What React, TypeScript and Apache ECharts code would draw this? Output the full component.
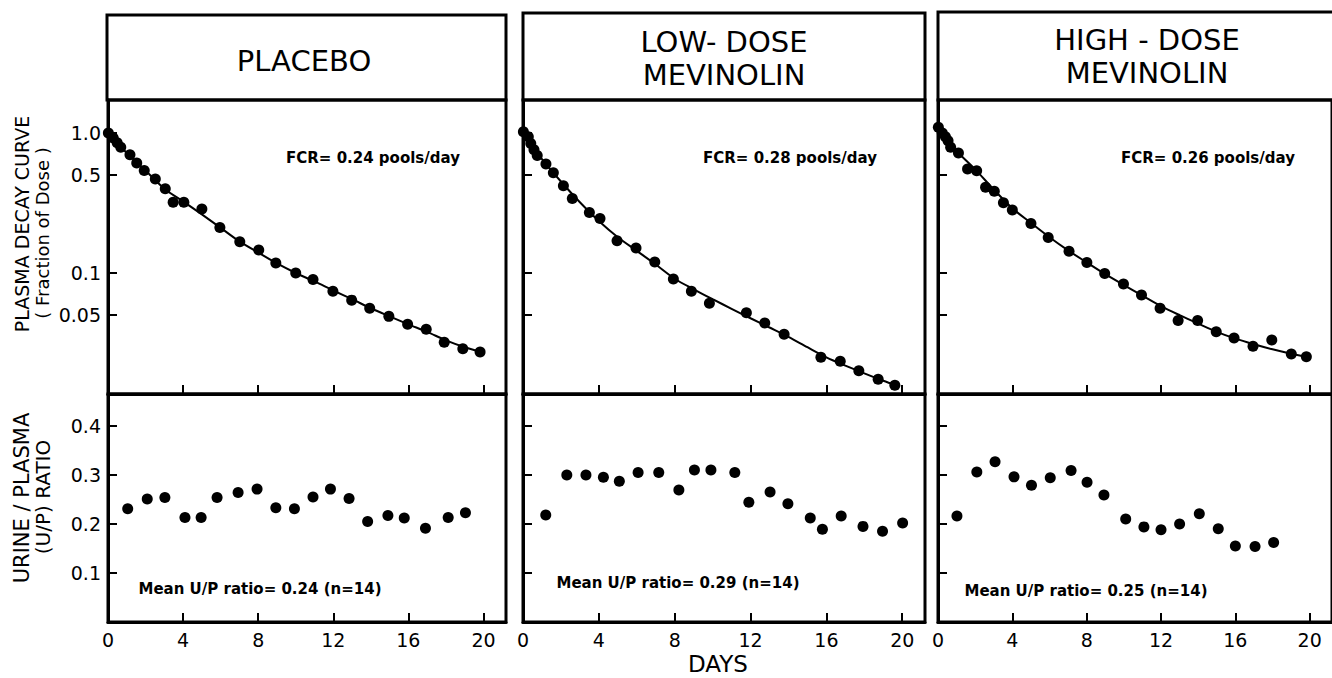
import React, { useEffect, useRef } from "react";
import * as echarts from "echarts";

// ---------- DATA ----------
const titles = [["PLACEBO"], ["LOW- DOSE", "MEVINOLIN"], ["HIGH - DOSE", "MEVINOLIN"]];
const fcrLabels = ["FCR= 0.24 pools/day", "FCR= 0.28 pools/day", "FCR= 0.26 pools/day"];
const meanLabels = ["Mean U/P ratio= 0.24 (n=14)", "Mean U/P ratio= 0.29 (n=14)", "Mean U/P ratio= 0.25 (n=14)"];

const dayTickStep = 4;
const decayTicks = [0.05, 0.1, 0.5, 1.0];
const ratioTickStep = 0.1;

// Plasma decay – placebo
const placeboDecayDays = [0.02, 0.28, 0.49, 0.68, 1.17, 1.53, 1.93, 2.52, 3.05, 3.47, 4.04, 5.0, 5.96, 7.02, 8.03, 8.94, 10.0, 10.92, 11.98, 12.98, 13.94, 14.96, 15.96, 16.95, 17.91, 18.9, 19.82];
const placeboDecay = [1.0, 0.92, 0.85, 0.79, 0.7, 0.61, 0.54, 0.47, 0.4, 0.32, 0.32, 0.286, 0.211, 0.167, 0.146, 0.118, 0.1, 0.09, 0.074, 0.064, 0.056, 0.049, 0.043, 0.0396, 0.032, 0.0288, 0.0273];
const placeboFitDays = [0, 1, 2, 3, 4, 5, 6, 7, 8, 9, 10, 11, 12, 13, 14, 15, 16, 17, 18, 19, 19.8];
const placeboFit = [1.0, 0.72, 0.54, 0.4, 0.325, 0.262, 0.21, 0.168, 0.14, 0.117, 0.1, 0.087, 0.075, 0.065, 0.056, 0.049, 0.043, 0.038, 0.033, 0.0295, 0.0275];

// Plasma decay – low-dose
const lowDecayDays = [0.02, 0.28, 0.41, 0.58, 0.75, 1.21, 1.6, 2.13, 2.6, 3.5, 4.06, 4.96, 5.96, 6.95, 7.93, 8.88, 9.83, 11.78, 12.75, 13.77, 15.71, 16.73, 17.71, 18.73, 19.61];
const lowDecay = [1.02, 0.94, 0.84, 0.76, 0.69, 0.6, 0.52, 0.42, 0.34, 0.27, 0.245, 0.17, 0.151, 0.12, 0.0906, 0.074, 0.0607, 0.052, 0.044, 0.0365, 0.025, 0.0234, 0.02, 0.0174, 0.0158];
const lowFitDays = [0, 1, 2, 3, 4, 5, 6, 7, 8, 9, 10, 11, 12, 13, 14, 15, 16, 17, 18, 19, 19.7];
const lowFit = [1.0, 0.65, 0.45, 0.32, 0.235, 0.18, 0.144, 0.115, 0.091, 0.0765, 0.065, 0.0555, 0.0475, 0.0408, 0.035, 0.0295, 0.025, 0.0218, 0.0192, 0.017, 0.0157];

// Plasma decay – high-dose
const highDecayDays = [0.02, 0.23, 0.4, 0.54, 0.68, 1.1, 1.59, 2.08, 2.56, 3.03, 3.52, 4.0, 5.0, 5.93, 7.05, 8.01, 8.97, 9.98, 10.95, 11.95, 12.92, 13.97, 14.97, 15.93, 16.95, 17.96, 19.01, 19.82];
const highDecay = [1.1, 1.0, 0.94, 0.88, 0.79, 0.72, 0.553, 0.538, 0.41, 0.383, 0.318, 0.282, 0.226, 0.179, 0.143, 0.119, 0.099, 0.0834, 0.0697, 0.056, 0.0457, 0.0457, 0.0381, 0.0343, 0.03, 0.0332, 0.0264, 0.0252];
const highFitDays = [0, 1, 2, 3, 4, 5, 6, 7, 8, 9, 10, 11, 12, 13, 14, 15, 16, 17, 18, 19, 19.8];
const highFit = [1.02, 0.74, 0.55, 0.395, 0.29, 0.228, 0.18, 0.145, 0.119, 0.098, 0.082, 0.069, 0.058, 0.05, 0.0435, 0.038, 0.034, 0.031, 0.0285, 0.0265, 0.0252];

// Urine / plasma ratio
const placeboRatioDays = [1.05, 2.09, 3.03, 4.1, 4.96, 5.81, 6.93, 7.94, 8.94, 9.93, 10.92, 11.85, 12.84, 13.83, 14.91, 15.78, 16.91, 18.12, 19.04];
const placeboRatio = [0.231, 0.251, 0.254, 0.213, 0.213, 0.254, 0.264, 0.271, 0.233, 0.231, 0.255, 0.271, 0.252, 0.205, 0.217, 0.212, 0.191, 0.213, 0.223];
const lowRatioDays = [1.2, 2.31, 3.32, 4.24, 5.08, 6.07, 7.16, 8.22, 9.04, 9.91, 11.17, 11.91, 13.03, 13.97, 15.15, 15.79, 16.78, 17.93, 18.96, 20.02];
const lowRatio = [0.218, 0.3, 0.3, 0.295, 0.287, 0.305, 0.305, 0.269, 0.31, 0.31, 0.305, 0.244, 0.265, 0.241, 0.212, 0.189, 0.216, 0.195, 0.185, 0.202];
const highRatioDays = [1.02, 2.09, 3.07, 4.09, 5.03, 6.04, 7.16, 8.02, 8.93, 10.1, 11.08, 12.0, 13.0, 14.06, 15.08, 16.0, 17.06, 18.06];
const highRatio = [0.216, 0.306, 0.327, 0.296, 0.279, 0.294, 0.309, 0.285, 0.259, 0.21, 0.194, 0.188, 0.2, 0.221, 0.19, 0.155, 0.154, 0.162];

const groups = [
  { dd: placeboDecayDays, dv: placeboDecay, fd: placeboFitDays, fv: placeboFit, rd: placeboRatioDays, rv: placeboRatio },
  { dd: lowDecayDays, dv: lowDecay, fd: lowFitDays, fv: lowFit, rd: lowRatioDays, rv: lowRatio },
  { dd: highDecayDays, dv: highDecay, fd: highFitDays, fv: highFit, rd: highRatioDays, rv: highRatio },
];

// ---------- LAYOUT ----------
const FONT = "'DejaVu Sans', 'Liberation Sans', Arial, sans-serif";
const panels = [
  { left: 108, width: 398, hx: 107, hy: 15, hw: 399, tx: 304, ty: [61], fcrX: 373, meanX: 260, meanY: 589 },
  { left: 523, width: 402, hx: 523, hy: 13, hw: 402, tx: 724, ty: [42, 75], fcrX: 790, meanX: 678, meanY: 583 },
  { left: 938, width: 404, hx: 938, hy: 12, hw: 420, tx: 1147, ty: [40, 73], fcrX: 1208, meanX: 1086, meanY: 591 },
];
const TOP_Y = 100, TOP_H = 294, BOT_Y = 394, BOT_H = 228;

export default function App() {
  const ref = useRef<HTMLDivElement>(null);
  useEffect(() => {
    if (!ref.current) return;
    const chart = echarts.init(ref.current, undefined, { renderer: "svg" });
    const grid: any[] = [];
    const xAxis: any[] = [];
    const yAxis: any[] = [];
    const series: any[] = [];
    const graphic: any[] = [];
    const axisLine = { show: true, onZero: false, lineStyle: { color: "#000", width: 3 } };
    const tick = { show: true, inside: true, length: 9, lineStyle: { color: "#000", width: 2 } };
    const isDayTick = (v: number) => Math.abs(v - Math.round(v)) < 1e-6 && Math.round(v) % dayTickStep === 0;

    panels.forEach((p, i) => {
      const g = groups[i];
      grid.push({ left: p.left, top: TOP_Y, width: p.width, height: TOP_H, show: true, borderColor: "#000", borderWidth: 3 });
      grid.push({ left: p.left, top: BOT_Y, width: p.width, height: BOT_H, show: true, borderColor: "#000", borderWidth: 3 });
      const ti = 2 * i, bi = 2 * i + 1;
      xAxis.push({
        type: "value", gridIndex: ti, min: 0, max: 21.2, interval: dayTickStep, axisLine,
        axisTick: tick, axisLabel: { show: false }, splitLine: { show: false },
      });
      xAxis.push({
        type: "value", gridIndex: bi, min: 0, max: 21.2, interval: dayTickStep, axisLine,
        axisTick: tick,
        axisLabel: {
          show: true, color: "#000", fontSize: 19, fontFamily: FONT, margin: 8, showMaxLabel: false,
          formatter: (v: number) => (isDayTick(v) ? String(Math.round(v)) : ""),
        },
        splitLine: { show: false },
      });
      yAxis.push({
        type: "log", logBase: 10, gridIndex: ti, min: 0.01367, max: 1.72, axisLine,
        axisTick: { ...tick, customValues: decayTicks },
        axisLabel: {
          show: i === 0, customValues: decayTicks, color: "#000", fontSize: 19, fontFamily: FONT, margin: 7,
          formatter: (v: number) => (v >= 0.99 ? "1.0" : String(+(+v).toPrecision(2))),
        },
        splitLine: { show: false },
      });
      yAxis.push({
        type: "value", gridIndex: bi, min: 0, max: 0.465, interval: ratioTickStep, axisLine,
        axisTick: tick,
        axisLabel: {
          show: i === 0, color: "#000", fontSize: 19, fontFamily: FONT, margin: 7, showMaxLabel: false, showMinLabel: false,
          formatter: (v: number) => (v > 0.05 && v < 0.45 ? (+v).toFixed(1) : ""),
        },
        splitLine: { show: false },
      });
      series.push({
        type: "line", xAxisIndex: ti, yAxisIndex: ti, smooth: 0.3, symbol: "none",
        lineStyle: { color: "#000", width: 2 }, data: g.fd.map((d, k) => [d, g.fv[k]]), z: 2,
      });
      series.push({
        type: "scatter", xAxisIndex: ti, yAxisIndex: ti, symbolSize: 11,
        itemStyle: { color: "#000", opacity: 1 }, data: g.dd.map((d, k) => [d, g.dv[k]]), z: 3,
      });
      series.push({
        type: "scatter", xAxisIndex: bi, yAxisIndex: bi, symbolSize: 11,
        itemStyle: { color: "#000", opacity: 1 }, data: g.rd.map((d, k) => [d, g.rv[k]]), z: 3,
      });

      graphic.push({
        type: "rect", shape: { x: p.hx, y: p.hy, width: p.hw, height: TOP_Y - p.hy },
        style: { fill: "none", stroke: "#000", lineWidth: 3 }, z: 10,
      });
      titles[i].forEach((t, k) => {
        graphic.push({
          type: "text", x: p.tx, y: p.ty[k],
          style: { text: t, fill: "#000", font: `29px ${FONT}`, textAlign: "center", textVerticalAlign: "middle" },
        });
      });
      graphic.push({
        type: "text", x: p.fcrX, y: 158,
        style: { text: fcrLabels[i], fill: "#000", font: `bold 15px ${FONT}`, textAlign: "center", textVerticalAlign: "middle" },
      });
      graphic.push({
        type: "text", x: p.meanX, y: p.meanY,
        style: { text: meanLabels[i], fill: "#000", font: `bold 15px ${FONT}`, textAlign: "center", textVerticalAlign: "middle" },
      });
    });

    const rot = (text: string, x: number, y: number, size: number) => ({
      type: "text", x, y, rotation: Math.PI / 2,
      style: { text, fill: "#000", font: `${size}px ${FONT}`, textAlign: "center", textVerticalAlign: "middle" },
    });
    graphic.push(rot("PLASMA DECAY CURVE", 22, 224, 19));
    graphic.push(rot("( Fraction of Dose )", 42, 233, 18));
    graphic.push(rot("URINE / PLASMA", 22, 498, 21));
    graphic.push(rot("(U/P) RATIO", 43, 497, 20));
    graphic.push({
      type: "text", x: 718, y: 664,
      style: { text: "DAYS", fill: "#000", font: `23px ${FONT}`, textAlign: "center", textVerticalAlign: "middle" },
    });

    chart.setOption({ animation: false, backgroundColor: "#fff", grid, xAxis, yAxis, series, graphic });
    return () => chart.dispose();
  }, []);
  return <div ref={ref} style={{ position: "fixed", left: 0, top: 0, width: 1332, height: 678 }} />;
}
